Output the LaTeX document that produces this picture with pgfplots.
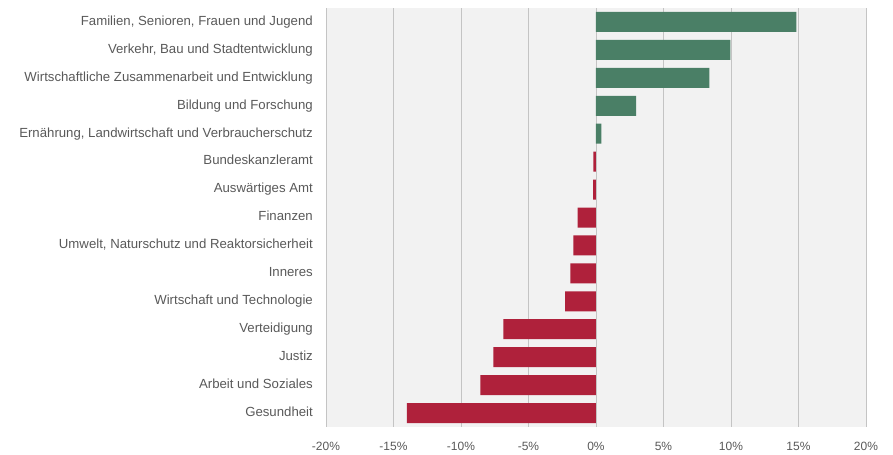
\documentclass[border=0pt]{standalone}
\usepackage{pgfplots}
\pgfplotsset{compat=1.18}
\usepackage{fontspec}
\setmainfont{Liberation Sans}
\definecolor{pos}{HTML}{4A7F66}
\definecolor{neg}{HTML}{AF213B}
\definecolor{bg}{HTML}{F2F2F2}
\definecolor{gridc}{HTML}{C4C4C4}
\definecolor{txt}{HTML}{595959}
\begin{document}
\begin{tikzpicture}
\begin{axis}[
  name=ax,
  scale only axis,
  width=540bp, height=419bp,
  xbar, bar width=20bp, bar shift=0pt,
  xmin=-20, xmax=20,
  ymin=-0.5, ymax=14.5,
  y dir=reverse,
  axis line style={draw=none},
  axis background/.style={fill=bg},
  xmajorgrids, major grid style={gridc, line width=0.8pt},
  xtick={-20,-15,...,20},
  xticklabel={\pgfmathprintnumber{\tick}\%},
  /pgf/number format/assume math mode=true,
  xticklabel style={font=\fontsize{12bp}{14bp}\selectfont, text=txt, inner sep=0pt, anchor=north, yshift=-15bp},
  ytick={0,...,14},
  yticklabels={Familien{,} Senioren{,} Frauen und Jugend,
    Verkehr{,} Bau und Stadtentwicklung,
    Wirtschaftliche Zusammenarbeit und Entwicklung,
    Bildung und Forschung,
    Ernährung{,} Landwirtschaft und Verbraucherschutz,
    Bundeskanzleramt,
    Auswärtiges Amt,
    Finanzen,
    Umwelt{,} Naturschutz und Reaktorsicherheit,
    Inneres,
    Wirtschaft und Technologie,
    Verteidigung,
    Justiz,
    Arbeit und Soziales,
    Gesundheit},
  yticklabel style={font=\fontsize{13.2bp}{15bp}\selectfont, text=txt, inner sep=0pt, anchor=east, xshift=-13bp, text height=9.5bp, text depth=2.8bp},
  major tick length=0pt,
  tick style={draw=none},
  clip=false,
]
\addplot[fill=pos, draw=none] coordinates {
  (14.85,0) (9.95,1) (8.4,2) (2.97,3) (0.39,4)
};
\addplot[fill=neg, draw=none] coordinates {
  (-0.2,5) (-0.22,6) (-1.37,7) (-1.68,8) (-1.9,9) (-2.28,10)
  (-6.87,11) (-7.6,12) (-8.57,13) (-14.0,14)
};
\end{axis}
\pgfresetboundingbox
\path[use as bounding box] ([xshift=-326bp,yshift=-28bp]ax.south west) rectangle ([xshift=27bp,yshift=8bp]ax.north east);
\end{tikzpicture}
\end{document}
